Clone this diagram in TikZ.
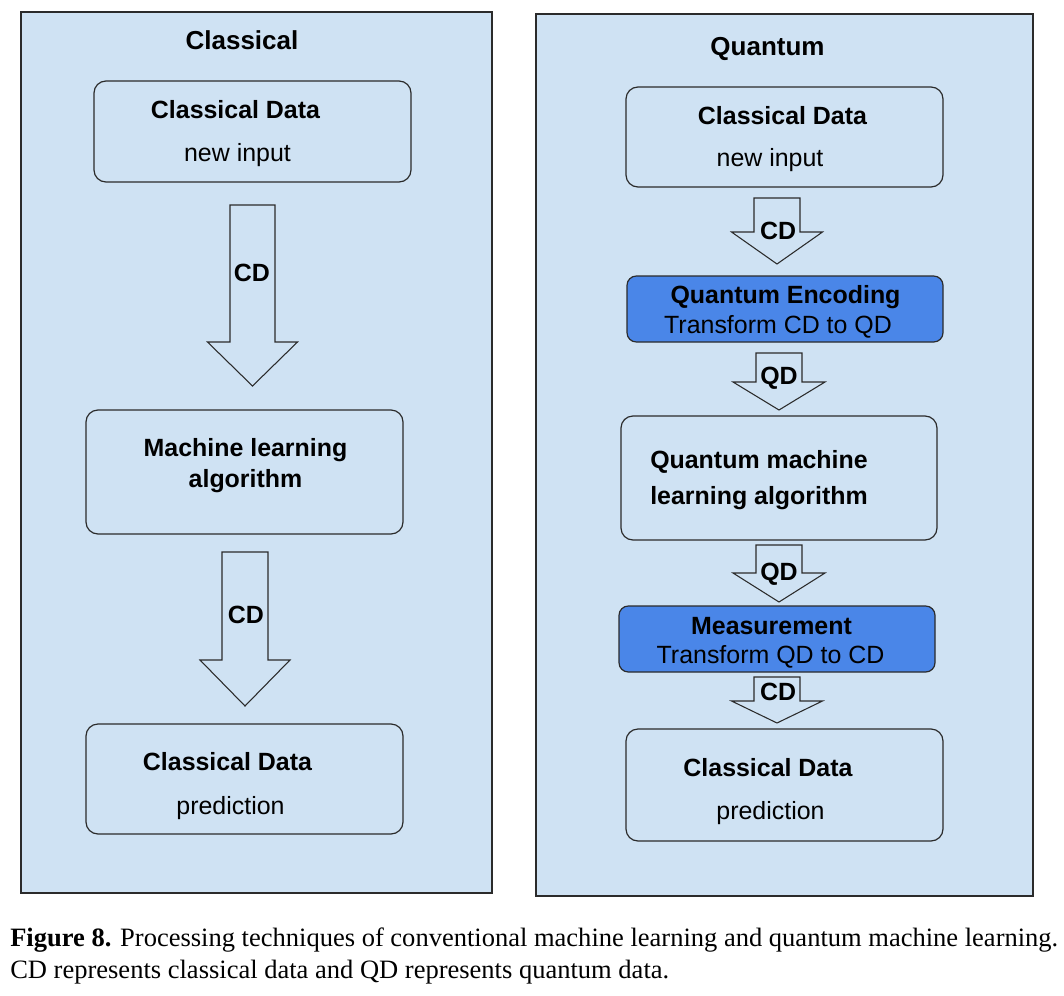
\documentclass[tikz,border=0pt]{standalone}
\usepackage{fontspec}
\setmainfont{Liberation Sans}
\newfontfamily\capfont{Liberation Serif}
\usepackage{graphicx}
\definecolor{panelblue}{HTML}{CFE2F3}
\definecolor{encblue}{HTML}{4A86E8}
\definecolor{edge}{HTML}{2B2B2B}
\newcommand{\blockarrow}[6]{%
  \draw[barrow] ({#1-#5},#2) -- ({#1+#5},#2) -- ({#1+#5},#3) -- ({#1+#6},#3)
    -- (#1,#4) -- ({#1-#6},#3) -- ({#1-#5},#3) -- cycle;}
\tikzset{
  panel/.style={draw=edge, fill=panelblue, line width=0.8pt, inner sep=0pt},
  rbox/.style={draw=edge, fill=panelblue, rounded corners=9pt, line width=0.9pt, inner sep=0pt},
  bbox/.style={rbox, fill=encblue, rounded corners=7pt},
  barrow/.style={draw=edge, fill=panelblue, line width=0.8pt, line join=miter},
  txt/.style={anchor=base, inner sep=0pt, font=\fontsize{18.7}{22}\selectfont},
  btxt/.style={anchor=base, inner sep=0pt, font=\fontsize{18.7}{22}\selectfont\bfseries},
  ttl/.style={anchor=base, inner sep=0pt, font=\fontsize{19.5}{22}\selectfont\bfseries},
}
\begin{document}
\begin{tikzpicture}[x=0.75pt,y=-0.75pt]
\useasboundingbox (0,0) rectangle (1064,996);
\fill[white] (0,0) rectangle (1064,996);

% panels
\node[panel, minimum width={471*0.75pt}, minimum height={881*0.75pt}] (lpanel) at (256.5,452.5) {};
\node[panel, minimum width={497*0.75pt}, minimum height={882*0.75pt}] (rpanel) at (784.5,455) {};

\node[ttl] (ltitle) at (242,49) {Classical};
\node[ttl] (rtitle) at (767.5,55) {Quantum};

% left boxes
\node[rbox, minimum width={317*0.75pt}, minimum height={101*0.75pt}] (l1) at (252.5,131.5) {};
\node[rbox, minimum width={317*0.75pt}, minimum height={124*0.75pt}] (l2) at (244.5,472) {};
\node[rbox, minimum width={317*0.75pt}, minimum height={110*0.75pt}] (l3) at (244.5,779) {};

\node[btxt] (l1a) at (235.5,118) {Classical Data};
\node[txt]  (l1b) at (237.5,161) {new input};
\node[btxt] (l2a) at (245.5,456) {Machine learning};
\node[btxt] (l2b) at (245.5,487) {algorithm};
\node[btxt] (l3a) at (227.5,770) {Classical Data};
\node[txt]  (l3b) at (230.5,814) {prediction};

% left arrows
\blockarrow{252.5}{205}{342}{386}{22.5}{45}
\node[btxt] (lcd1) at (252,281) {CD};
\blockarrow{245}{552}{660}{706}{23}{45}
\node[btxt] (lcd2) at (246,623) {CD};

% right boxes
\node[rbox, minimum width={317*0.75pt}, minimum height={100*0.75pt}] (r1) at (784.5,137) {};
\node[bbox, minimum width={316*0.75pt}, minimum height={66*0.75pt}] (r2) at (785,309) {};
\node[rbox, minimum width={316*0.75pt}, minimum height={124*0.75pt}] (r3) at (779,478) {};
\node[bbox, minimum width={316*0.75pt}, minimum height={66*0.75pt}] (r4) at (777,639) {};
\node[rbox, minimum width={317*0.75pt}, minimum height={112*0.75pt}] (r5) at (784.5,785) {};

\node[btxt] (r1a) at (782.5,124) {Classical Data};
\node[txt]  (r1b) at (770,166) {new input};
\node[btxt] (r2a) at (785.5,303) {Quantum Encoding};
\node[txt]  (r2b) at (778,333) {Transform CD to QD};
\node[btxt] (r3a) at (759,468) {Quantum machine};
\node[btxt] (r3b) at (759,504) {learning algorithm};
\node[btxt] (r4a) at (771.5,634) {Measurement};
\node[txt]  (r4b) at (770.5,663) {Transform QD to CD};
\node[btxt] (r5a) at (768,776) {Classical Data};
\node[txt]  (r5b) at (770.5,819) {prediction};

% right arrows
\blockarrow{777}{198}{232}{264}{23}{45.5}
\node[btxt] (rcd1) at (778,239) {CD};
\blockarrow{779}{353}{382}{410}{23}{46}
\node[btxt] (rqd1) at (779,384) {QD};
\blockarrow{779}{545}{573}{602}{23}{46}
\node[btxt] (rqd2) at (779,580) {QD};
\blockarrow{777}{677}{701}{723}{23}{45.5}
\node[btxt] (rcd2) at (778,700) {CD};

% caption
\node[anchor=base west, inner sep=0pt] (cap) at (10,946) {\resizebox{786pt}{!}{\capfont\fontsize{19.5}{24}\selectfont
  \begin{tabular}[t]{@{}l@{}}\textbf{Figure 8.} Processing techniques of conventional machine learning and quantum machine learning.\\
  CD represents classical data and QD represents quantum data.\end{tabular}}};
\end{tikzpicture}
\end{document}
